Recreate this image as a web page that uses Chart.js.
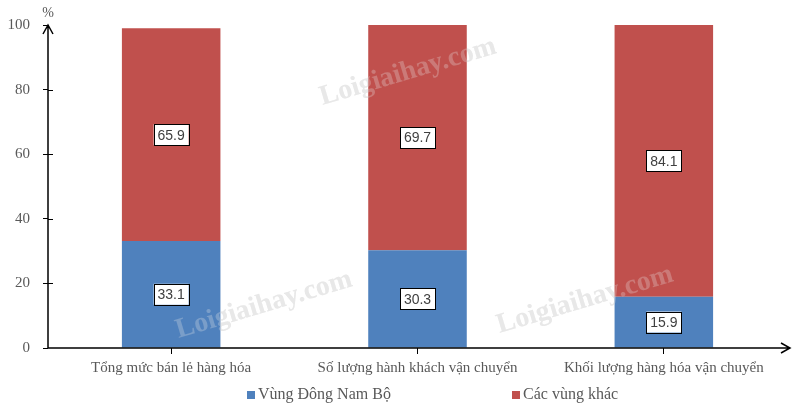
<!DOCTYPE html>
<html>
<head>
<meta charset="utf-8">
<script src="https://cdn.jsdelivr.net/npm/chart.js@4.4.0/dist/chart.umd.min.js"></script>
<style>
  html, body { margin: 0; padding: 0; background: #fff; }
  #wrap { width: 794px; height: 410px; }
</style>
</head>
<body>
<div id="wrap"><canvas id="myChart"></canvas></div>
<script>
const categories = [
  "Tổng mức bán lẻ hàng hóa",
  "Số lượng hành khách vận chuyển",
  "Khối lượng hàng hóa vận chuyển",
];
const seriesNames = ["Vùng Đông Nam Bộ", "Các vùng khác"];
const dongNamBo = [33.1, 30.3, 15.9];
const vungKhac = [65.9, 69.7, 84.1];
const yTicks = [0, 20, 40, 60, 80, 100];
const colors = ["#4f81bd", "#c0504d"];

const serif = "'Liberation Serif', 'Times New Roman', serif";
const sans = "'Liberation Sans', Arial, sans-serif";

const marks = [[408, 72], [264, 305], [585, 300]];

function drawMarks(ctx, color) {
  ctx.save();
  ctx.font = "bold 28px " + serif;
  ctx.fillStyle = color;
  ctx.textAlign = "center";
  ctx.textBaseline = "middle";
  marks.forEach(([x, y]) => {
    ctx.save();
    ctx.translate(x, y);
    ctx.rotate(-0.29);
    ctx.fillText("Loigiaihay.com", 0, 0);
    ctx.restore();
  });
  ctx.restore();
}

// arrows, "%", watermark, value boxes and legend
const extras = {
  id: "extras",
  beforeDatasetsDraw(chart) {
    drawMarks(chart.ctx, "rgba(215,215,215,0.6)");
  },
  afterDatasetsDraw(chart) {
    const ctx = chart.ctx;
    drawMarks(ctx, "rgba(235,235,235,0.28)");

    // value boxes
    ctx.save();
    ctx.font = "14px " + sans;
    ctx.textAlign = "center";
    ctx.textBaseline = "middle";
    chart.data.datasets.forEach((ds, i) => {
      chart.getDatasetMeta(i).data.forEach((bar, j) => {
        const mid = (bar.y + bar.base) / 2;
        const txt = ds.data[j].toFixed(1);
        const w = 35, h = 21;
        ctx.fillStyle = "#fff";
        ctx.fillRect(bar.x - w / 2, mid - h / 2, w, h);
        ctx.strokeStyle = "#000";
        ctx.lineWidth = 1;
        ctx.strokeRect(Math.round(bar.x - w / 2) + 0.5, Math.round(mid - h / 2) + 0.5, w, h);
        ctx.fillStyle = "#404040";
        ctx.fillText(txt, bar.x, mid + 1);
      });
    });
    ctx.restore();

    // axes with arrows
    const a = chart.chartArea;
    const y = chart.scales.y;
    ctx.save();
    ctx.strokeStyle = "#000";
    ctx.lineWidth = 1.5;
    ctx.beginPath();
    ctx.moveTo(a.left, a.bottom);
    ctx.lineTo(a.left, a.top);
    ctx.moveTo(a.left - 5, a.top + 9);
    ctx.lineTo(a.left, a.top);
    ctx.lineTo(a.left + 5, a.top + 9);
    ctx.moveTo(a.left, a.bottom);
    ctx.lineTo(a.right + 3, a.bottom);
    ctx.moveTo(a.right - 6, a.bottom - 5);
    ctx.lineTo(a.right + 3, a.bottom);
    ctx.lineTo(a.right - 6, a.bottom + 5);
    ctx.stroke();
    ctx.lineWidth = 1;
    ctx.beginPath();
    yTicks.slice(1, -1).forEach(v => {
      const py = Math.round(y.getPixelForValue(v)) + 0.5;
      ctx.moveTo(a.left, py);
      ctx.lineTo(a.left + 5, py);
    });
    ctx.stroke();
    ctx.font = "14px " + serif;
    ctx.fillStyle = "#595959";
    ctx.textAlign = "center";
    ctx.textBaseline = "middle";
    ctx.fillText("%", a.left, 13);

    // legend
    ctx.font = "16px " + serif;
    ctx.textAlign = "left";
    const lx = [247, 512];
    chart.data.datasets.forEach((ds, i) => {
      ctx.fillStyle = ds.backgroundColor;
      ctx.fillRect(lx[i], 391, 8, 8);
      ctx.fillStyle = "#595959";
      ctx.fillText(ds.label, lx[i] + 11, 395);
    });
    ctx.restore();
  },
};

new Chart(document.getElementById("myChart"), {
  type: "bar",
  data: {
    labels: categories,
    datasets: [
      { label: seriesNames[0], data: dongNamBo, backgroundColor: colors[0] },
      { label: seriesNames[1], data: vungKhac, backgroundColor: colors[1] },
    ],
  },
  options: {
    responsive: true,
    maintainAspectRatio: false,
    animation: false,
    devicePixelRatio: 1,
    layout: { padding: { top: 25, right: 7, left: 0, bottom: 0 } },
    datasets: { bar: { categoryPercentage: 1, barPercentage: 0.4 } },
    plugins: { legend: { display: false }, tooltip: { enabled: false } },
    scales: {
      x: {
        stacked: true,
        border: { display: false },
        grid: { drawOnChartArea: false, offset: false, tickLength: 6, color: "#000", tickColor: "#000" },
        ticks: { color: "#595959", font: { family: serif, size: 15 }, padding: 5, maxRotation: 0 },
        afterFit(s) { s.height = 62; },
      },
      y: {
        stacked: true,
        min: 0,
        max: 100,
        border: { display: false },
        grid: { drawOnChartArea: false, tickLength: 5, color: "#000", tickColor: "#000" },
        afterBuildTicks(s) { s.ticks = yTicks.map(v => ({ value: v })); },
        ticks: { color: "#595959", font: { family: serif, size: 15 }, padding: 13 },
        afterFit(s) { s.width = 48; },
      },
    },
  },
  plugins: [extras],
});
</script>
</body>
</html>
